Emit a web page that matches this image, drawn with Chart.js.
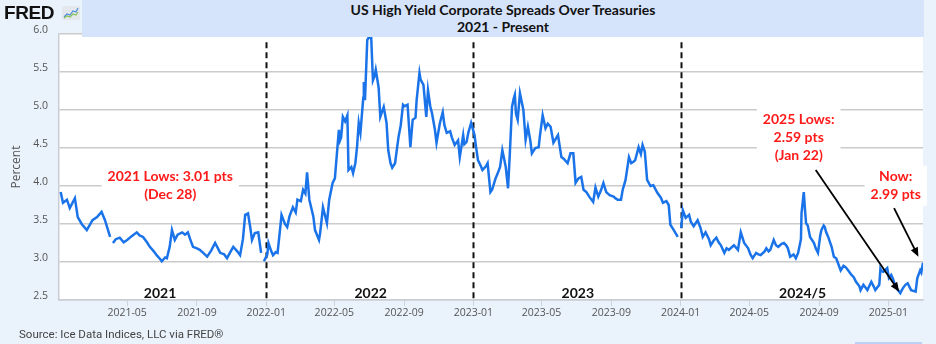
<!DOCTYPE html>
<html>
<head>
<meta charset="utf-8">
<script src="https://cdn.jsdelivr.net/npm/chart.js@4.4.1/dist/chart.umd.min.js"></script>
<style>
  html,body{margin:0;padding:0;background:#eaf2fb;}
  #wrap{position:relative;width:936px;height:344px;overflow:hidden;}
  #c{position:absolute;left:0;top:0;}
  #logo{position:absolute;left:4px;top:2px;font:bold 19px "Liberation Sans",Arial,sans-serif;letter-spacing:-0.4px;color:#111;}
  #logo svg{position:absolute;left:58px;top:4px;}
  #title{position:absolute;left:82px;top:0;width:842px;height:37px;background:#d5e3fb;text-align:center;
    font:bold 14px Lato,sans-serif;line-height:17px;color:#111;padding-top:1px;box-sizing:border-box;}
  #source{position:absolute;left:19px;top:327px;font:11.5px Roboto,sans-serif;color:#444;}
  #btn{position:absolute;left:855px;top:342px;width:67px;height:2px;background:#bcd0f6;}
</style>
</head>
<body>
<div id="wrap">
  <canvas id="c" width="936" height="344"></canvas>
  <div id="logo">FRED<svg width="18" height="14" viewBox="0 0 18 14"><rect x="0" y="0" width="18" height="14" rx="2" fill="#e4e8ec"/><polyline points="2,11 5,8 8,9 11,5 14,6 16,2" fill="none" stroke="#4a8fd8" stroke-width="1.2"/><polyline points="2,12 5,10 8,11 11,8 14,9 16,6" fill="none" stroke="#8cbf5a" stroke-width="1.2"/></svg></div>
  <div id="title">US High Yield Corporate Spreads Over Treasuries<br>2021 - Present</div>
  <div id="source">Source: Ice Data Indices, LLC via FRED®</div>
  <div id="btn"></div>
</div>
<script>
// ICE BofA US High Yield OAS, percent
const dates=["2021-01-04","2021-01-08","2021-01-15","2021-01-20","2021-01-29","2021-02-03","2021-02-10","2021-02-19","2021-03-01","2021-03-09",
"2021-03-17","2021-03-23","2021-04-01","2021-04-02","2021-04-06","2021-04-11","2021-04-18","2021-04-25","2021-05-01","2021-05-09",
"2021-05-18","2021-05-23","2021-05-29","2021-06-05","2021-06-10","2021-06-17","2021-06-22","2021-06-28","2021-07-01","2021-07-07",
"2021-07-10","2021-07-15","2021-07-19","2021-07-24","2021-07-29","2021-08-06","2021-08-11","2021-08-16","2021-08-20","2021-08-25",
"2021-09-01","2021-09-06","2021-09-12","2021-09-19","2021-09-26","2021-10-03","2021-10-08","2021-10-12","2021-10-19","2021-10-24",
"2021-10-29","2021-11-04","2021-11-11","2021-11-16","2021-11-21","2021-11-25","2021-11-30","2021-12-04","2021-12-07","2021-12-12",
"2021-12-18","2021-12-23","2021-12-25","2021-12-28","2022-01-03","2022-01-05","2022-01-10","2022-01-13","2022-01-18","2022-01-21",
"2022-01-25","2022-01-28","2022-02-03","2022-02-07","2022-02-11","2022-02-17","2022-02-22","2022-02-25","2022-03-03","2022-03-07",
"2022-03-11","2022-03-14","2022-03-18","2022-03-25","2022-03-28","2022-04-04","2022-04-06","2022-04-11","2022-04-15","2022-04-18",
"2022-04-22","2022-04-28","2022-05-02","2022-05-09","2022-05-11","2022-05-13","2022-05-16","2022-05-20","2022-05-24","2022-05-26",
"2022-05-31","2022-06-03","2022-06-07","2022-06-10","2022-06-13","2022-06-16","2022-06-21","2022-06-22","2022-06-24","2022-06-28",
"2022-07-01","2022-07-05","2022-07-08","2022-07-11","2022-07-13","2022-07-18","2022-07-21","2022-07-27","2022-08-01","2022-08-04",
"2022-08-08","2022-08-11","2022-08-16","2022-08-22","2022-08-26","2022-08-30","2022-09-02","2022-09-07","2022-09-12","2022-09-16",
"2022-09-21","2022-09-23","2022-09-28","2022-09-30","2022-10-05","2022-10-10","2022-10-13","2022-10-17","2022-10-20","2022-10-25",
"2022-10-28","2022-11-03","2022-11-08","2022-11-11","2022-11-15","2022-11-21","2022-11-24","2022-11-29","2022-12-05","2022-12-08",
"2022-12-14","2022-12-16","2022-12-20","2022-12-23","2022-12-28","2023-01-03","2023-01-05","2023-01-09","2023-01-13","2023-01-17",
"2023-01-23","2023-01-26","2023-01-31","2023-02-03","2023-02-09","2023-02-13","2023-02-17","2023-02-21","2023-02-27","2023-03-03",
"2023-03-06","2023-03-10","2023-03-13","2023-03-15","2023-03-17","2023-03-20","2023-03-24","2023-03-30","2023-04-03","2023-04-07",
"2023-04-11","2023-04-14","2023-04-20","2023-04-26","2023-04-28","2023-05-03","2023-05-08","2023-05-12","2023-05-17","2023-05-22",
"2023-05-26","2023-05-30","2023-06-05","2023-06-09","2023-06-16","2023-06-21","2023-06-26","2023-06-30","2023-07-05","2023-07-10",
"2023-07-14","2023-07-19","2023-07-24","2023-07-31","2023-08-04","2023-08-09","2023-08-14","2023-08-18","2023-08-23","2023-08-29",
"2023-09-05","2023-09-08","2023-09-12","2023-09-18","2023-09-21","2023-09-26","2023-10-02","2023-10-06","2023-10-10","2023-10-13",
"2023-10-19","2023-10-23","2023-10-26","2023-10-30","2023-11-03","2023-11-09","2023-11-14","2023-11-21","2023-11-27","2023-12-01",
"2023-12-07","2023-12-11","2023-12-14","2023-12-20","2023-12-27","2023-12-29","2024-01-02","2024-01-05","2024-01-10","2024-01-16",
"2024-01-19","2024-01-24","2024-01-31","2024-02-05","2024-02-09","2024-02-14","2024-02-20","2024-02-23","2024-02-28","2024-03-04",
"2024-03-08","2024-03-12","2024-03-18","2024-03-22","2024-03-26","2024-04-01","2024-04-04","2024-04-11","2024-04-16","2024-04-22",
"2024-04-29","2024-05-03","2024-05-07","2024-05-13","2024-05-17","2024-05-21","2024-05-28","2024-05-31","2024-06-04","2024-06-07",
"2024-06-13","2024-06-17","2024-06-21","2024-06-27","2024-07-01","2024-07-05","2024-07-08","2024-07-12","2024-07-18","2024-07-22",
"2024-07-26","2024-07-31","2024-08-01","2024-08-05","2024-08-07","2024-08-09","2024-08-12","2024-08-16","2024-08-23","2024-08-26",
"2024-08-30","2024-09-03","2024-09-05","2024-09-09","2024-09-11","2024-09-13","2024-09-17","2024-09-23","2024-09-27","2024-10-01",
"2024-10-04","2024-10-09","2024-10-14","2024-10-18","2024-10-23","2024-10-28","2024-11-01","2024-11-05","2024-11-11","2024-11-13",
"2024-11-18","2024-11-22","2024-11-25","2024-12-02","2024-12-06","2024-12-09","2024-12-16","2024-12-18","2024-12-20","2024-12-23",
"2024-12-30","2025-01-02","2025-01-06","2025-01-09","2025-01-14","2025-01-22","2025-01-24","2025-01-27","2025-01-31","2025-02-04",
"2025-02-10","2025-02-14","2025-02-18","2025-02-21","2025-02-26","2025-02-28","2025-03-03"];
const spread=[3.92,3.78,3.82,3.71,3.84,3.59,3.50,3.42,3.55,3.59,
3.66,3.55,3.33,null,3.25,3.30,3.32,3.26,3.29,3.34,
3.39,3.35,3.33,3.26,3.20,3.14,3.09,3.04,3.01,3.06,
3.05,3.20,3.42,3.29,3.36,3.39,3.36,3.39,3.30,3.20,
3.18,3.16,3.12,3.07,3.15,3.25,3.18,3.12,3.10,3.05,
3.12,3.20,3.14,3.09,3.30,3.62,3.64,3.45,3.29,3.38,
3.39,3.12,null,3.01,3.10,3.25,3.14,3.09,3.13,3.12,
3.40,3.62,3.50,3.46,3.60,3.72,3.65,3.82,3.80,3.95,
3.90,4.18,3.82,3.60,3.42,3.29,3.38,3.72,3.60,3.51,
3.82,4.04,4.10,4.74,4.60,4.64,4.91,4.85,4.93,4.21,
4.25,4.17,4.30,4.51,4.83,4.70,5.16,5.37,5.13,5.92,
5.96,5.95,5.39,5.45,5.53,5.30,4.91,5.04,4.83,4.47,
4.30,4.24,4.30,4.64,4.80,5.07,5.05,5.07,4.51,4.87,
4.90,5.13,5.49,5.40,5.33,4.91,5.26,5.05,4.96,4.75,
4.57,4.83,4.97,4.80,4.70,4.72,4.64,4.54,4.60,4.38,
4.67,4.55,4.58,4.70,4.83,4.67,4.55,4.34,4.28,4.21,
4.26,4.30,3.92,3.95,4.10,4.17,4.25,4.47,4.25,3.97,
4.40,5.04,5.15,5.20,4.95,4.87,5.22,5.00,4.61,4.78,
4.61,4.43,4.50,4.51,4.65,4.93,4.76,4.82,4.78,4.57,
4.62,4.67,4.38,4.36,4.30,4.43,4.43,4.04,4.10,4.12,
3.95,3.92,3.86,3.79,3.98,3.86,3.95,4.04,3.92,3.88,
3.86,3.84,3.82,3.82,3.95,4.08,4.38,4.30,4.32,4.34,
4.51,4.42,4.54,4.45,4.08,4.00,4.01,3.91,3.85,3.78,
3.80,3.75,3.49,3.42,3.33,null,3.45,3.68,3.58,3.62,
3.53,3.47,3.55,3.45,3.33,3.39,3.30,3.22,3.28,3.32,
3.26,3.22,3.12,3.18,3.16,3.20,3.22,3.16,3.39,3.25,
3.18,3.10,3.05,3.12,3.10,3.09,3.14,3.18,3.14,3.16,
3.29,3.22,3.20,3.24,3.25,3.22,3.18,3.07,3.10,3.05,
3.12,3.30,3.64,3.92,3.70,3.51,3.48,3.33,3.25,3.18,
3.12,3.35,3.42,3.48,3.46,3.40,3.33,3.20,3.07,3.05,
2.99,2.89,2.95,2.93,2.88,2.83,2.80,2.74,2.68,2.63,
2.70,2.66,2.63,2.74,2.68,2.63,2.70,2.91,2.88,2.87,
2.92,2.79,2.83,2.78,2.67,2.59,2.62,2.66,2.70,2.72,
2.63,2.62,2.61,2.79,2.89,2.86,2.99];

const axisStart="2021-01-01";
const tickLabels=["2021-05","2021-09","2022-01","2022-05","2022-09","2023-01","2023-05","2023-09","2024-01","2024-05","2024-09","2025-01"];
const yearDividers=["2022-01-01","2023-01-01","2024-01-01"];
const yearNames=["2021","2022","2023","2024/5"];
const yearNameDates=["2021-06-28","2022-07-04","2023-07-04","2024-08-03"];
// red notes: centre date, value at the first line, text lines
const notes=[
  {date:"2021-07-16", value:4.12, lines:["2021 Lows: 3.01 pts","(Dec 28)"]},
  {date:"2024-07-27", value:4.87, lines:["2025 Lows:","2.59 pts","(Jan 22)"]},
  {date:"2025-01-14", value:4.12, lines:["Now:","2.99 pts"]}
];
// arrows: from [date,value] to [date,value]
const arrows=[
  {from:["2024-08-26",4.21], to:["2025-01-20",2.61]},
  {from:["2025-01-11",3.71], to:["2025-02-23",3.07]}
];

const dayNum=(s)=>(Date.parse(s)-Date.parse(axisStart))/864e5;
const points=dates.map((d,i)=>({x:dayNum(d), y:spread[i]}));

const bgPlugin={
  id:"bg",
  beforeDraw(chart){
    const {ctx,chartArea:a}=chart;
    ctx.save();
    ctx.fillStyle="#eaf2fb"; ctx.fillRect(0,0,chart.width,chart.height);
    ctx.fillStyle="#fff"; ctx.fillRect(a.left,a.top,a.right-a.left,a.bottom-a.top);
    ctx.restore();
  }
};

const notesPlugin={
  id:"notes",
  beforeDatasetsDraw(chart){
    const {ctx,scales:{x,y},chartArea:a}=chart;
    ctx.save();
    // year dividers
    ctx.strokeStyle="#111"; ctx.lineWidth=2; ctx.setLineDash([6,4]);
    yearDividers.forEach(d=>{
      const px=Math.round(x.getPixelForValue(dayNum(d)))+0.5;
      ctx.beginPath(); ctx.moveTo(px,y.getPixelForValue(5.89)); ctx.lineTo(px,a.bottom+2); ctx.stroke();
    });
    ctx.setLineDash([]);
    // red notes with white backing
    ctx.font="bold 14px Lato, sans-serif"; ctx.textAlign="center"; ctx.textBaseline="middle";
    notes.forEach(n=>{
      const cx=x.getPixelForValue(dayNum(n.date)), cy=y.getPixelForValue(n.value);
      const w=Math.max(...n.lines.map(l=>ctx.measureText(l).width))+12;
      ctx.fillStyle="#fff"; ctx.fillRect(cx-w/2,cy-11,w,n.lines.length*18+4);
      ctx.fillStyle="#ff1a1a";
      n.lines.forEach((l,i)=>ctx.fillText(l,cx,cy+i*18));
    });
    ctx.restore();
  },
  afterDatasetsDraw(chart){
    const {ctx,scales:{x,y}}=chart;
    ctx.save();
    ctx.strokeStyle="#000"; ctx.fillStyle="#000"; ctx.lineWidth=1.8;
    arrows.forEach(ar=>{
      const x0=x.getPixelForValue(dayNum(ar.from[0])), y0=y.getPixelForValue(ar.from[1]);
      const x1=x.getPixelForValue(dayNum(ar.to[0])), y1=y.getPixelForValue(ar.to[1]);
      const ang=Math.atan2(y1-y0,x1-x0), h=10;
      ctx.beginPath(); ctx.moveTo(x0,y0); ctx.lineTo(x1-Math.cos(ang)*h*0.8,y1-Math.sin(ang)*h*0.8); ctx.stroke();
      ctx.beginPath(); ctx.moveTo(x1,y1);
      ctx.lineTo(x1-h*Math.cos(ang-0.4),y1-h*Math.sin(ang-0.4));
      ctx.lineTo(x1-h*Math.cos(ang+0.4),y1-h*Math.sin(ang+0.4));
      ctx.closePath(); ctx.fill();
    });
    ctx.font="bold 14px Lato, sans-serif"; ctx.textAlign="center"; ctx.textBaseline="middle"; ctx.fillStyle="#111";
    yearNames.forEach((t,i)=>ctx.fillText(t,x.getPixelForValue(dayNum(yearNameDates[i])),y.getPixelForValue(2.59)));
    ctx.restore();
  }
};

new Chart(document.getElementById("c"),{
  type:"line",
  data:{datasets:[{label:"BAMLH0A0HYM2",data:points,borderColor:"#1a73e8",borderWidth:2.5,pointRadius:0,tension:0,spanGaps:false,fill:false}]},
  options:{
    responsive:false, animation:false, devicePixelRatio:1,
    layout:{padding:{left:0,right:13,top:34,bottom:0}},
    plugins:{legend:{display:false},tooltip:{enabled:false}},
    scales:{
      x:{type:"linear",min:0,max:dayNum(dates[dates.length-1]),
        afterBuildTicks(s){s.ticks=tickLabels.map(t=>({value:dayNum(t+"-01")}));},
        afterFit(s){s.height=44;},
        grid:{drawOnChartArea:false,drawTicks:true,tickLength:6,color:"#cdd3db"},
        border:{display:true,color:"#c9ced6",width:1.5},
        ticks:{callback:(v,i)=>tickLabels[i],color:"#555",font:{family:"Open Sans",size:10.5},padding:1,maxRotation:0,autoSkip:false}
      },
      y:{min:2.5,max:6,
        afterFit(s){s.width=59;},
        grid:{color:"#cbcbcb",lineWidth:1.5,drawTicks:false},
        border:{display:true,color:"#c9ced6",width:1.5},
        ticks:{stepSize:0.5,callback:v=>v.toFixed(1),color:"#555",font:{family:"Open Sans",size:10.5},padding:11,labelOffset:-4},
        title:{display:true,text:"Percent",color:"#555",font:{family:"Open Sans",size:12},padding:{top:9,bottom:0}}
      }
    }
  },
  plugins:[bgPlugin,notesPlugin]
});
</script>
</body>
</html>
